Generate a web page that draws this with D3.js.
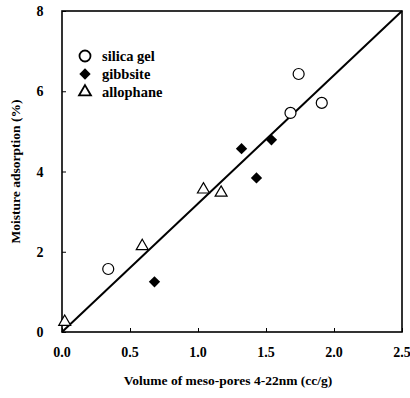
<!DOCTYPE html>
<html>
<head>
<meta charset="utf-8">
<script src="https://cdn.jsdelivr.net/npm/d3@7"></script>
<style>
  body { margin: 0; background: #fff; }
  text { font-family: "Liberation Serif", "DejaVu Serif", serif; font-weight: bold; fill: #000; }
</style>
</head>
<body>
<div id="chart"></div>
<script>
// data
const silicaX = [0.34, 1.68, 1.74, 1.91];
const silicaY = [1.57, 5.46, 6.43, 5.71];
const gibbsiteX = [0.68, 1.32, 1.43, 1.54];
const gibbsiteY = [1.25, 4.57, 3.84, 4.79];
const allophaneX = [0.02, 0.59, 1.04, 1.17];
const allophaneY = [0.25, 2.14, 3.55, 3.47];
const fitX = [0, 2.5];
const fitY = [0, 8];
const xTicks = [0, 0.5, 1.0, 1.5, 2.0, 2.5];
const yTicks = [0, 2, 4, 6, 8];
const legendNames = ["silica gel", "gibbsite", "allophane"];

const W = 410, H = 398;
const margin = { left: 62, right: 8, top: 11, bottom: 66 };

const svg = d3.select("#chart").append("svg")
  .attr("width", W)
  .attr("height", H);

const x = d3.scaleLinear().domain([0, 2.5]).range([margin.left, W - margin.right]);
const y = d3.scaleLinear().domain([0, 8]).range([H - margin.bottom, margin.top]);

// frame
svg.append("rect")
  .attr("x", x(0)).attr("y", y(8))
  .attr("width", x(2.5) - x(0)).attr("height", y(0) - y(8))
  .attr("fill", "none").attr("stroke", "#000").attr("stroke-width", 1.6);

// inward ticks
svg.append("g")
  .attr("transform", `translate(0,${y(0)})`)
  .call(d3.axisTop(x).tickValues(xTicks).tickSize(4).tickFormat(""))
  .call(g => g.select(".domain").remove());

svg.append("g")
  .attr("transform", `translate(${x(0)},0)`)
  .call(d3.axisRight(y).tickValues(yTicks).tickSize(4).tickFormat(""))
  .call(g => g.select(".domain").remove());

// tick labels
svg.append("g").selectAll("text")
  .data(xTicks)
  .join("text")
  .attr("x", d => x(d))
  .attr("y", y(0) + 25)
  .attr("text-anchor", "middle")
  .attr("font-size", 14)
  .text(d => d3.format(".1f")(d));

svg.append("g").selectAll("text")
  .data(yTicks)
  .join("text")
  .attr("x", x(0) - 22)
  .attr("y", d => y(d) + 5)
  .attr("text-anchor", "middle")
  .attr("font-size", 14)
  .text(d => d);

// axis titles
svg.append("text")
  .attr("x", 228).attr("y", 385)
  .attr("text-anchor", "middle")
  .attr("font-size", 13.5)
  .text("Volume of meso-pores 4-22nm (cc/g)");

svg.append("text")
  .attr("transform", `translate(20,${(y(0) + y(8)) / 2}) rotate(-90)`)
  .attr("text-anchor", "middle")
  .attr("font-size", 13.5)
  .text("Moisture adsorption (%)");

// fitted line
const fit = fitX.map((v, i) => [v, fitY[i]]);
svg.append("path")
  .datum(fit)
  .attr("fill", "none")
  .attr("stroke", "#000")
  .attr("stroke-width", 2)
  .attr("d", d3.line().x(d => x(d[0])).y(d => y(d[1])));

const zip = (a, b) => a.map((v, i) => [v, b[i]]);
const circleSym = d3.symbol().type(d3.symbolCircle).size(95);
const diamondSym = d3.symbol().type(d3.symbolSquare).size(64);
const triSym = d3.symbol().type(d3.symbolTriangle).size(62);

// silica gel
svg.append("g").selectAll("path")
  .data(zip(silicaX, silicaY))
  .join("path")
  .attr("transform", d => `translate(${x(d[0])},${y(d[1])})`)
  .attr("d", circleSym)
  .attr("fill", "#fff").attr("stroke", "#000").attr("stroke-width", 1.2);

// gibbsite
svg.append("g").selectAll("path")
  .data(zip(gibbsiteX, gibbsiteY))
  .join("path")
  .attr("transform", d => `translate(${x(d[0])},${y(d[1])}) rotate(45)`)
  .attr("d", diamondSym)
  .attr("fill", "#000");

// allophane
svg.append("g").selectAll("path")
  .data(zip(allophaneX, allophaneY))
  .join("path")
  .attr("transform", d => `translate(${x(d[0])},${y(d[1])})`)
  .attr("d", triSym)
  .attr("fill", "#fff").attr("stroke", "#000").attr("stroke-width", 1.2);

// legend
const legendSyms = [
  { sym: circleSym, fill: "#fff", stroke: "#000", rot: 0 },
  { sym: diamondSym, fill: "#000", stroke: "none", rot: 45 },
  { sym: triSym, fill: "#fff", stroke: "#000", rot: 0 }
];
const leg = svg.append("g").attr("transform", "translate(85,56)");
legendNames.forEach((name, i) => {
  leg.append("path")
    .attr("transform", `translate(0,${i * 18}) rotate(${legendSyms[i].rot})`)
    .attr("d", legendSyms[i].sym)
    .attr("fill", legendSyms[i].fill)
    .attr("stroke", legendSyms[i].stroke)
    .attr("stroke-width", 1.8);
  leg.append("text")
    .attr("x", 17).attr("y", i * 18 + 5)
    .attr("font-size", 14.5)
    .text(name);
});
</script>
</body>
</html>
